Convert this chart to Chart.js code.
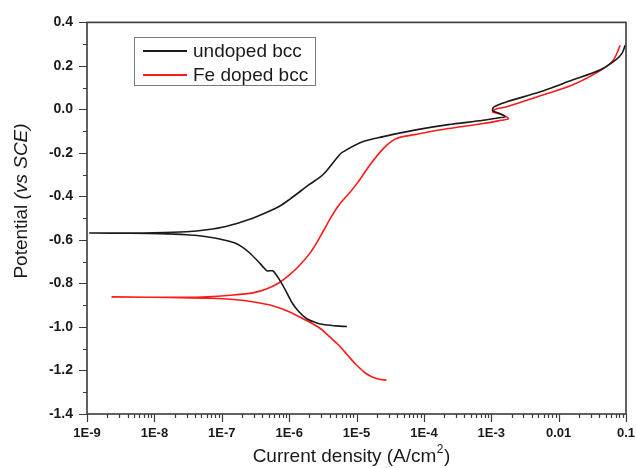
<!DOCTYPE html>
<html>
<head>
<meta charset="utf-8">
<script src="https://cdn.jsdelivr.net/npm/chart.js@4.4.0/dist/chart.umd.min.js"></script>
<style>
  body { margin: 0; background: #fff; }
  #wrap { width: 636px; height: 468px; }
</style>
</head>
<body>
<div id="wrap"><canvas id="myChart" width="636" height="468"></canvas></div>
<script>
//Data
let seriesNames = ['undoped bcc', 'Fe doped bcc'];

// undoped: cathodic end -> Ecorr tip -> anodic end
let undopedCurrent = [7.2e-6, 5e-6, 3.2e-6, 2.4e-6, 1.8e-6, 1.4e-6, 1.13e-6, 9.5e-7, 7.8e-7, 6.5e-7, 5.7e-7, 4.7e-7, 4.2e-7, 3.5e-7, 2.6e-7, 2e-7, 1.5e-7, 1e-7, 6e-8, 3e-8, 1.2e-8, 4e-9, 1.1e-9,
  3e-9, 1e-8, 3e-8, 6e-8, 1.15e-7, 2.6e-7, 4.5e-7, 7.2e-7, 1.02e-6, 2e-6, 3.2e-6, 5.6e-6, 6.4e-6, 1.2e-5, 2.5e-5, 7.6e-5, 2.3e-4, 7.6e-4, 1.3e-3, 1.6e-3, 1.4e-3, 1.05e-3, 1.1e-3, 1.7e-3, 5.2e-3, 1.6e-2, 4.1e-2, 7.2e-2, 8.8e-2, 9.7e-2];
let undopedPotential = [-0.998, -0.995, -0.989, -0.978, -0.961, -0.93, -0.893, -0.85, -0.801, -0.762, -0.742, -0.742, -0.727, -0.70, -0.66, -0.632, -0.612, -0.598, -0.585, -0.576, -0.571, -0.569, -0.568,
  -0.568, -0.567, -0.562, -0.553, -0.538, -0.505, -0.475, -0.445, -0.413, -0.345, -0.299, -0.208, -0.194, -0.15, -0.125, -0.094, -0.07, -0.05, -0.038, -0.034, -0.022, -0.005, 0.012, 0.035, 0.08, 0.135, 0.181, 0.23, 0.26, 0.295];

// Fe doped
let dopedCurrent = [2.8e-5, 2e-5, 1.4e-5, 1e-5, 7.4e-6, 5.5e-6, 4.1e-6, 2.9e-6, 1.8e-6, 1e-6, 5.7e-7, 3e-7, 1.5e-7, 7e-8, 2.5e-8, 2.35e-9,
  2e-8, 5e-8, 1.5e-7, 3e-7, 4.5e-7, 7e-7, 1e-6, 1.4e-6, 2e-6, 2.6e-6, 3.2e-6, 4.2e-6, 5.6e-6, 7.8e-6, 1.02e-5, 1.6e-5, 2.5e-5, 3.9e-5, 8.6e-5, 2.3e-4, 7.6e-4, 1.4e-3, 1.8e-3, 1.5e-3, 1.05e-3, 1.2e-3, 1.7e-3, 5.2e-3, 1.6e-2, 4.5e-2, 6.6e-2, 8.2e-2];
let dopedPotential = [-1.245, -1.238, -1.215, -1.175, -1.13, -1.085, -1.048, -1.007, -0.970, -0.93, -0.902, -0.885, -0.874, -0.868, -0.865, -0.862,
  -0.864, -0.862, -0.853, -0.842, -0.827, -0.798, -0.762, -0.72, -0.664, -0.61, -0.56, -0.495, -0.436, -0.385, -0.34, -0.253, -0.18, -0.134, -0.112, -0.088, -0.065, -0.05, -0.043, -0.025, -0.011, 0.003, 0.012, 0.062, 0.112, 0.185, 0.23, 0.295];

let xTickValues = [1e-9, 1e-8, 1e-7, 1e-6, 1e-5, 1e-4, 1e-3, 0.01, 0.1];
let xTickLabels = ['1E-9', '1E-8', '1E-7', '1E-6', '1E-5', '1E-4', '1E-3', '0.01', '0.1'];

const FONT = '"Liberation Sans", Arial, sans-serif';

function toPoints(xs, ys) {
  return xs.map((v, i) => ({x: v, y: ys[i]}));
}

// frame, tick marks, axis titles and legend
const decor = {
  id: 'decor',
  afterDraw(chart) {
    const ctx = chart.ctx;
    const a = chart.chartArea;
    const x = chart.scales.x, y = chart.scales.y;
    ctx.save();
    ctx.strokeStyle = '#3a3a3a';
    ctx.lineWidth = 1.6;
    ctx.strokeRect(a.left, a.top, a.right - a.left, a.bottom - a.top);

    ctx.lineWidth = 1.2;
    ctx.beginPath();
    for (let i = 0; i <= 18; i++) {
      let py = Math.round(y.getPixelForValue(-1.4 + i * 0.1)) + 0.5;
      let len = i % 2 === 0 ? 8 : 4;
      ctx.moveTo(a.left, py);
      ctx.lineTo(a.left - len, py);
    }
    for (let e = -9; e <= -1; e++) {
      for (let m = 1; m <= 9; m++) {
        if (e === -1 && m > 1) break;
        let px = Math.round(x.getPixelForValue(m * Math.pow(10, e))) + 0.5;
        let len = m === 1 ? 8 : 4;
        ctx.moveTo(px, a.bottom);
        ctx.lineTo(px, a.bottom + len);
      }
    }
    ctx.stroke();

    // x title
    ctx.fillStyle = '#1a1a1a';
    ctx.textBaseline = 'alphabetic';
    ctx.textAlign = 'left';
    ctx.font = '19px ' + FONT;
    let t1 = 'Current density (A/cm', t3 = ')';
    let w1 = ctx.measureText(t1).width, w3 = ctx.measureText(t3).width;
    ctx.font = '12px ' + FONT;
    let w2 = ctx.measureText('2').width;
    let sx = 351 - (w1 + w2 + w3) / 2;
    ctx.font = '19px ' + FONT;
    ctx.fillText(t1, sx, 462);
    ctx.fillText(t3, sx + w1 + w2 + 1, 462);
    ctx.font = '12px ' + FONT;
    ctx.fillText('2', sx + w1 + 0.5, 453);

    // y title
    ctx.save();
    ctx.translate(27, 201);
    ctx.rotate(-Math.PI / 2);
    ctx.font = '19px ' + FONT;
    let p1 = 'Potential ';
    let pw1 = ctx.measureText(p1).width;
    ctx.font = 'italic 19px ' + FONT;
    let p2 = '(vs SCE)';
    let pw2 = ctx.measureText(p2).width;
    let st = -(pw1 + pw2) / 2;
    ctx.font = '19px ' + FONT;
    ctx.fillText(p1, st, 0);
    ctx.font = 'italic 19px ' + FONT;
    ctx.fillText(p2, st + pw1, 0);
    ctx.restore();

    // legend
    ctx.strokeStyle = '#7a7a7a';
    ctx.lineWidth = 1;
    ctx.strokeRect(134.5, 37.5, 181, 48);
    ctx.font = '19px ' + FONT;
    ctx.textBaseline = 'middle';
    chart.data.datasets.forEach((ds, i) => {
      let ly = 51 + i * 24;
      ctx.strokeStyle = ds.borderColor;
      ctx.lineWidth = 2;
      ctx.beginPath();
      ctx.moveTo(143, ly);
      ctx.lineTo(187, ly);
      ctx.stroke();
      ctx.fillStyle = '#1a1a1a';
      ctx.fillText(ds.label, 193, ly + 1);
    });
    ctx.restore();
  }
};

var ctx = document.getElementById('myChart').getContext('2d');
var myChart = new Chart(ctx, {
  type: 'scatter',
  data: {
    datasets: [{
      label: seriesNames[0],
      data: toPoints(undopedCurrent, undopedPotential),
      borderColor: '#1a1a1a',
      borderWidth: 1.6,
      showLine: true,
      pointRadius: 0,
      tension: 0.3
    }, {
      label: seriesNames[1],
      data: toPoints(dopedCurrent, dopedPotential),
      borderColor: '#ff1a1a',
      borderWidth: 1.6,
      showLine: true,
      pointRadius: 0,
      tension: 0.3
    }]
  },
  options: {
    responsive: false,
    animation: false,
    devicePixelRatio: 1,
    layout: { padding: { left: 0, right: 0, top: 20, bottom: 0 } },
    plugins: { legend: { display: false }, tooltip: { enabled: false } },
    scales: {
      x: {
        type: 'logarithmic',
        min: 1e-9,
        max: 0.1,
        grid: { display: false, drawTicks: false, tickLength: 0 },
        border: { display: false },
        afterBuildTicks: scale => { scale.ticks = xTickValues.map(v => ({value: v})); },
        afterFit: scale => { scale.height = 54; scale.paddingRight = 10; },
        ticks: {
          padding: 12,
          maxRotation: 0,
          autoSkip: false,
          color: '#1a1a1a',
          font: { family: FONT, size: 13, weight: 'bold' },
          callback: function (value) {
            let i = xTickValues.findIndex(v => Math.abs(v - value) / v < 1e-6);
            return i >= 0 ? xTickLabels[i] : '';
          }
        }
      },
      y: {
        min: -1.4,
        max: 0.4,
        grid: { display: false, drawTicks: false, tickLength: 0 },
        border: { display: false },
        afterFit: scale => { scale.width = 87; },
        ticks: {
          stepSize: 0.2,
          padding: 14,
          color: '#1a1a1a',
          font: { family: FONT, size: 14, weight: 'bold' },
          callback: v => (Math.round(v * 10) / 10).toFixed(1)
        }
      }
    }
  },
  plugins: [decor]
});
</script>
</body>
</html>
